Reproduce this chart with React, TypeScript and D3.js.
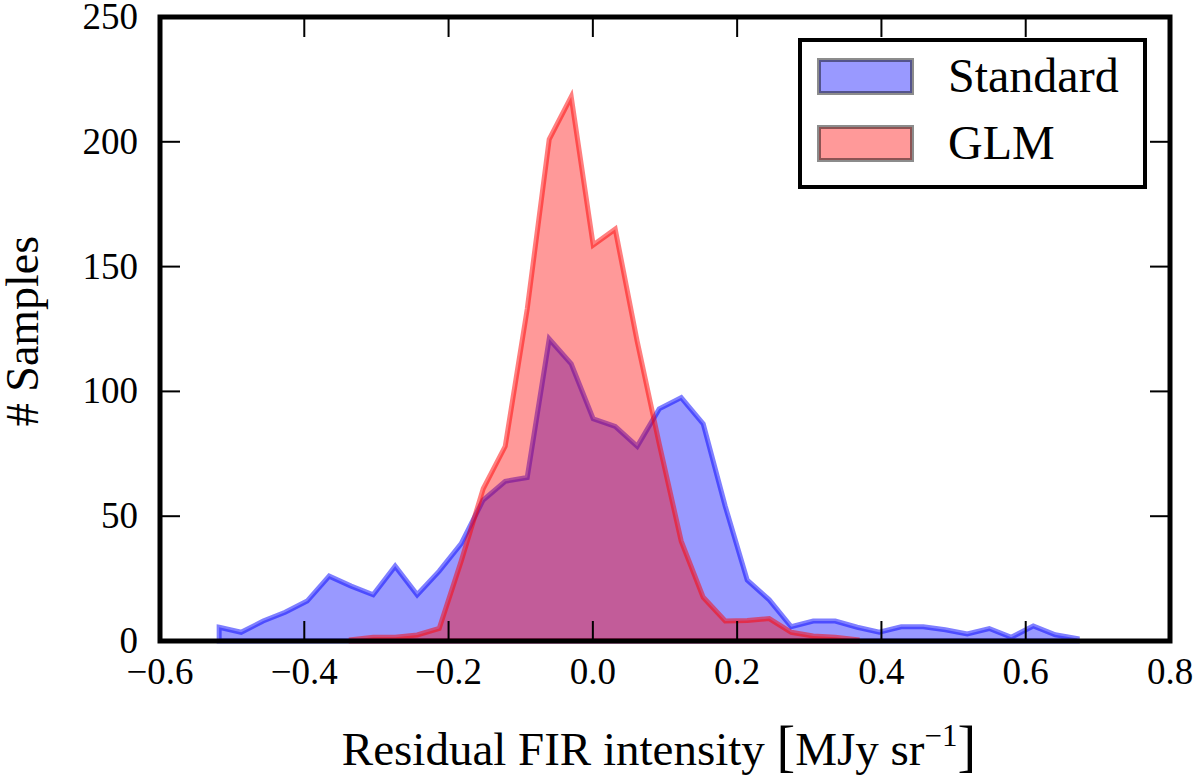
import * as d3 from 'd3';
import { useEffect, useRef } from 'react';

// bin centres (MJy sr^-1) and counts
const standardX = [
  -0.518, -0.4875, -0.457, -0.4265, -0.396, -0.3655, -0.335, -0.3045, -0.274, -0.2435,
  -0.213, -0.1825, -0.152, -0.1215, -0.091, -0.0605, -0.03, 0.0005, 0.031, 0.0615,
  0.092, 0.1225, 0.153, 0.1835, 0.214, 0.2445, 0.275, 0.3055, 0.336, 0.3665,
  0.397, 0.4275, 0.458, 0.4885, 0.519, 0.5495, 0.58, 0.6105, 0.641, 0.6715,
];
const standardCounts = [
  5.5, 3.5, 8, 11.5, 16, 26, 22, 18.5, 30, 18.5,
  28, 39, 56.5, 64, 65.5, 121, 111, 89, 86, 78,
  93, 97.5, 87, 54, 24.4, 16.5, 5.7, 8, 8, 5.5,
  3.5, 5.7, 5.7, 4.5, 2.8, 5, 1.5, 6, 2.5, 1,
];

const glmX = [
  -0.335, -0.3045, -0.274, -0.2435, -0.213, -0.1825, -0.152, -0.1215, -0.091, -0.0605,
  -0.03, 0.0005, 0.031, 0.0615, 0.092, 0.1225, 0.153, 0.1835, 0.214, 0.2445,
  0.275, 0.3055, 0.336, 0.3665,
];
const glmCounts = [
  0.5, 1.5, 1.5, 2.4, 5, 32, 61, 78, 133, 201,
  218, 158.6, 165, 120, 79, 40, 17.5, 8, 8.2, 9,
  3.5, 2, 1.5, 0.5,
];

const xTicks = [-0.6, -0.4, -0.2, 0.0, 0.2, 0.4, 0.6, 0.8];
const yTicks = [0, 50, 100, 150, 200, 250];

const series = [
  { name: 'Standard', xs: standardX, counts: standardCounts, fill: 'rgba(0,0,255,0.4)', stroke: 'rgba(0,0,255,0.5)' },
  { name: 'GLM', xs: glmX, counts: glmCounts, fill: 'rgba(255,0,0,0.4)', stroke: 'rgba(255,0,0,0.5)' },
];

const W = 1200;
const H = 779;
const FONT = '"Liberation Serif", "DejaVu Serif", serif';

export default function App() {
  const ref = useRef<SVGSVGElement | null>(null);

  useEffect(() => {
    const svg = d3.select(ref.current);
    svg.selectAll('*').remove();

    const left = 160, right = 1170, top = 17, bottom = 641;

    const x = d3.scaleLinear().domain([-0.6, 0.8]).range([left, right]);
    const y = d3.scaleLinear().domain([0, 250]).range([bottom, top]);

    svg.append('rect').attr('width', W).attr('height', H).attr('fill', '#fff');

    const area = d3
      .area<[number, number]>()
      .x((d) => x(d[0]))
      .y0(y(0))
      .y1((d) => y(d[1]));

    series.forEach((s) => {
      const pts: [number, number][] = s.xs.map((v, i) => [v, s.counts[i]]);
      svg
        .append('path')
        .attr('d', area(pts)!)
        .attr('fill', s.fill)
        .attr('stroke', s.stroke)
        .attr('stroke-width', 5)
        .attr('stroke-linejoin', 'miter');
    });

    // ticks on all four sides, pointing inward
    const tl = 20;
    const tg = svg.append('g').attr('stroke', '#000').attr('stroke-width', 2);
    xTicks.forEach((t) => {
      tg.append('line').attr('x1', x(t)).attr('x2', x(t)).attr('y1', bottom).attr('y2', bottom - tl);
      tg.append('line').attr('x1', x(t)).attr('x2', x(t)).attr('y1', top).attr('y2', top + tl);
    });
    yTicks.forEach((t) => {
      tg.append('line').attr('x1', left).attr('x2', left + tl).attr('y1', y(t)).attr('y2', y(t));
      tg.append('line').attr('x1', right).attr('x2', right - tl).attr('y1', y(t)).attr('y2', y(t));
    });

    svg
      .append('rect')
      .attr('x', left)
      .attr('y', top)
      .attr('width', right - left)
      .attr('height', bottom - top)
      .attr('fill', 'none')
      .attr('stroke', '#000')
      .attr('stroke-width', 5);

    const fmt = d3.format('.1f');
    svg
      .append('g')
      .selectAll('text')
      .data(xTicks)
      .enter()
      .append('text')
      .attr('x', (d) => x(d))
      .attr('y', 684)
      .attr('text-anchor', 'middle')
      .attr('font-family', FONT)
      .attr('font-size', 37)
      .text((d) => fmt(d));

    svg
      .append('g')
      .selectAll('text')
      .data(yTicks)
      .enter()
      .append('text')
      .attr('x', 138)
      .attr('y', (d) => y(d) + 12)
      .attr('text-anchor', 'end')
      .attr('font-family', FONT)
      .attr('font-size', 37)
      .text((d) => String(d));

    // axis labels
    const xl = svg
      .append('text')
      .attr('x', 659)
      .attr('y', 765)
      .attr('text-anchor', 'middle')
      .attr('font-family', FONT)
      .attr('font-size', 47);
    xl.append('tspan').text('Residual FIR intensity ');
    xl.append('tspan').attr('font-size', 56).text('[');
    xl.append('tspan').text('MJy sr');
    xl.append('tspan').attr('font-size', 31).attr('dy', -19).text('\u22121');
    xl.append('tspan').attr('dy', 19).attr('font-size', 56).text(']');

    svg
      .append('text')
      .attr('transform', 'translate(38,331) rotate(-90)')
      .attr('text-anchor', 'middle')
      .attr('font-family', FONT)
      .attr('font-size', 46)
      .text('# Samples');

    // legend
    const lg = svg.append('g');
    lg.append('rect')
      .attr('x', 800)
      .attr('y', 40)
      .attr('width', 345)
      .attr('height', 147)
      .attr('fill', '#fff')
      .attr('stroke', '#000')
      .attr('stroke-width', 4);
    series.forEach((s, i) => {
      const py = 59 + i * 67;
      lg.append('rect')
        .attr('x', 819)
        .attr('y', py + 1)
        .attr('width', 93)
        .attr('height', 33)
        .attr('fill', s.fill)
        .attr('stroke', 'rgba(0,0,0,0.45)')
        .attr('stroke-width', 4);
      lg.append('text')
        .attr('x', 948)
        .attr('y', py + 33)
        .attr('font-family', FONT)
        .attr('font-size', 48)
        .text(s.name);
    });
  }, []);

  return (
    <svg
      ref={ref}
      width={W}
      height={H}
      style={{ position: 'absolute', left: 0, top: 0, display: 'block' }}
    />
  );
}
